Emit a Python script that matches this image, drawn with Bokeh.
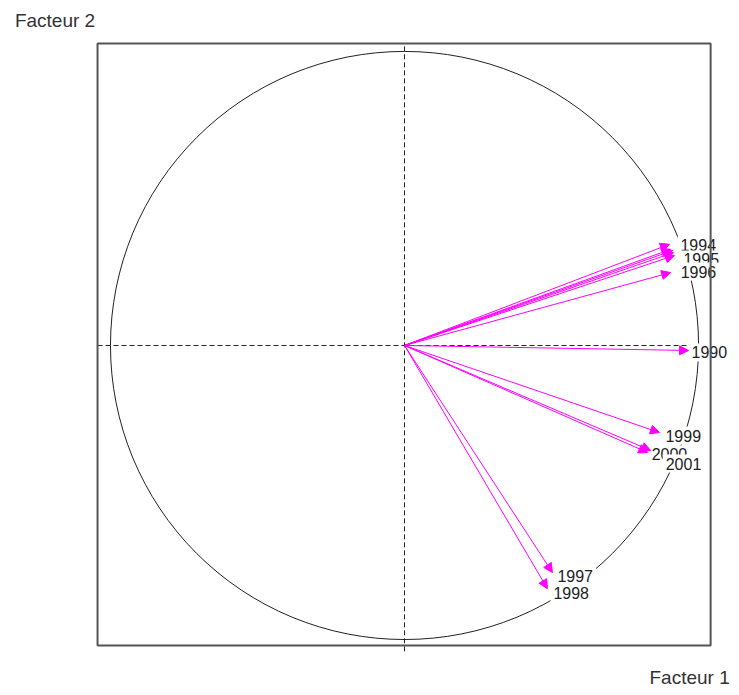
from bokeh.plotting import figure
from bokeh.models import (ColumnDataSource, Arrow, NormalHead, LabelSet, Label,
                          Range1d, BoxAnnotation, Text)
from bokeh.core.properties import value
from bokeh.embed import file_html
from bokeh.resources import INLINE

# Correlation circle: variables (years) on factors 1 and 2
years = ["1991", "1992", "1993", "1990", "1994", "1995", "1996",
         "1997", "1998", "1999", "2000", "2001"]
facteur1 = [0.905, 0.912, 0.915, 0.966, 0.901, 0.918, 0.905,
            0.503, 0.486, 0.867, 0.837, 0.827]
facteur2 = [0.327, 0.323, 0.316, -0.017, 0.344, 0.306, 0.248,
            -0.772, -0.827, -0.296, -0.357, -0.364]

# label nudges in screen pixels (right, down)
nudge_x = [8, 8, 8, 3, 11, 9, 10, 5, 6, 6, 1, 18]
nudge_y = [3, 3, 3, 2, 1, 4, -1, 3, 4, 3, 4, 11]

# visible box of the factor plane
box_left, box_right, box_bottom, box_top = -1.044, 1.041, -1.020, 1.027

FONT = "Liberation Sans"
MAGENTA = "#ff00ff"
INK = "#222222"
PAD = 3

src = ColumnDataSource(dict(
    x0=[0.0] * len(years), y0=[0.0] * len(years),
    x1=facteur1, y1=facteur2, name=years,
    dx=nudge_x, dy=[-v for v in nudge_y],
    gdx=[v - PAD for v in nudge_x], gdy=nudge_y,
))

W, H = 731, 687
p = figure(width=W, height=H, output_backend="svg", toolbar_location=None,
           x_range=Range1d(-1.374, 1.112), y_range=Range1d(-1.163, 1.173),
           min_border=0)
p.axis.visible = False
p.grid.visible = False
p.outline_line_color = None
p.background_fill_color = "white"
p.border_fill_color = "white"

# frame of the factor plane
p.add_layout(BoxAnnotation(left=box_left, right=box_right, bottom=box_bottom,
                           top=box_top, fill_alpha=0, line_color="#555555",
                           line_width=2, line_alpha=1))

# unit circle
p.circle(x=[0], y=[0], radius=[1], fill_color=None, line_color=INK,
         line_width=1)

# dashed axes
p.segment(x0=[box_left, 0], y0=[0, -1.040], x1=[box_right, 0], y1=[0, box_top],
          line_color=INK, line_dash="5 3", line_width=1)

# arrows
p.add_layout(Arrow(x_start="x0", y_start="y0", x_end="x1", y_end="y1",
                   source=src, line_color=MAGENTA, line_width=1,
                   end=NormalHead(size=9, fill_color=MAGENTA,
                                  line_color=MAGENTA, line_width=1)))

# labels (white boxes, later ones hide earlier ones)
text_props = Text.properties()
if "padding" in text_props and "background_fill_color" in text_props:
    r = p.text(x="x1", y="y1", text="name", source=src,
               x_offset="gdx", y_offset="gdy",
               text_align="left", text_baseline="middle",
               text_font=value(FONT), text_font_size=value("16px"),
               text_color=INK, level="annotation")
    r.glyph.background_fill_color = "white"
    r.glyph.padding = PAD
else:
    p.add_layout(LabelSet(x="x1", y="y1", text="name", source=src,
                          x_offset="dx", y_offset="dy",
                          text_align="left", text_baseline="middle",
                          text_font=value(FONT), text_font_size=value("16px"),
                          text_color=value(INK),
                          background_fill_color="white"))

# factor titles
p.add_layout(Label(x=-1.325, y=1.105, text="Facteur 2", text_font=FONT,
                   text_font_size="19px", text_color="#333333",
                   text_align="left", text_baseline="middle"))
p.add_layout(Label(x=1.106, y=-1.128, text="Facteur 1", text_font=FONT,
                   text_font_size="19px", text_color="#333333",
                   text_align="right", text_baseline="middle"))

open("out.html", "w").write(file_html(p, INLINE))
